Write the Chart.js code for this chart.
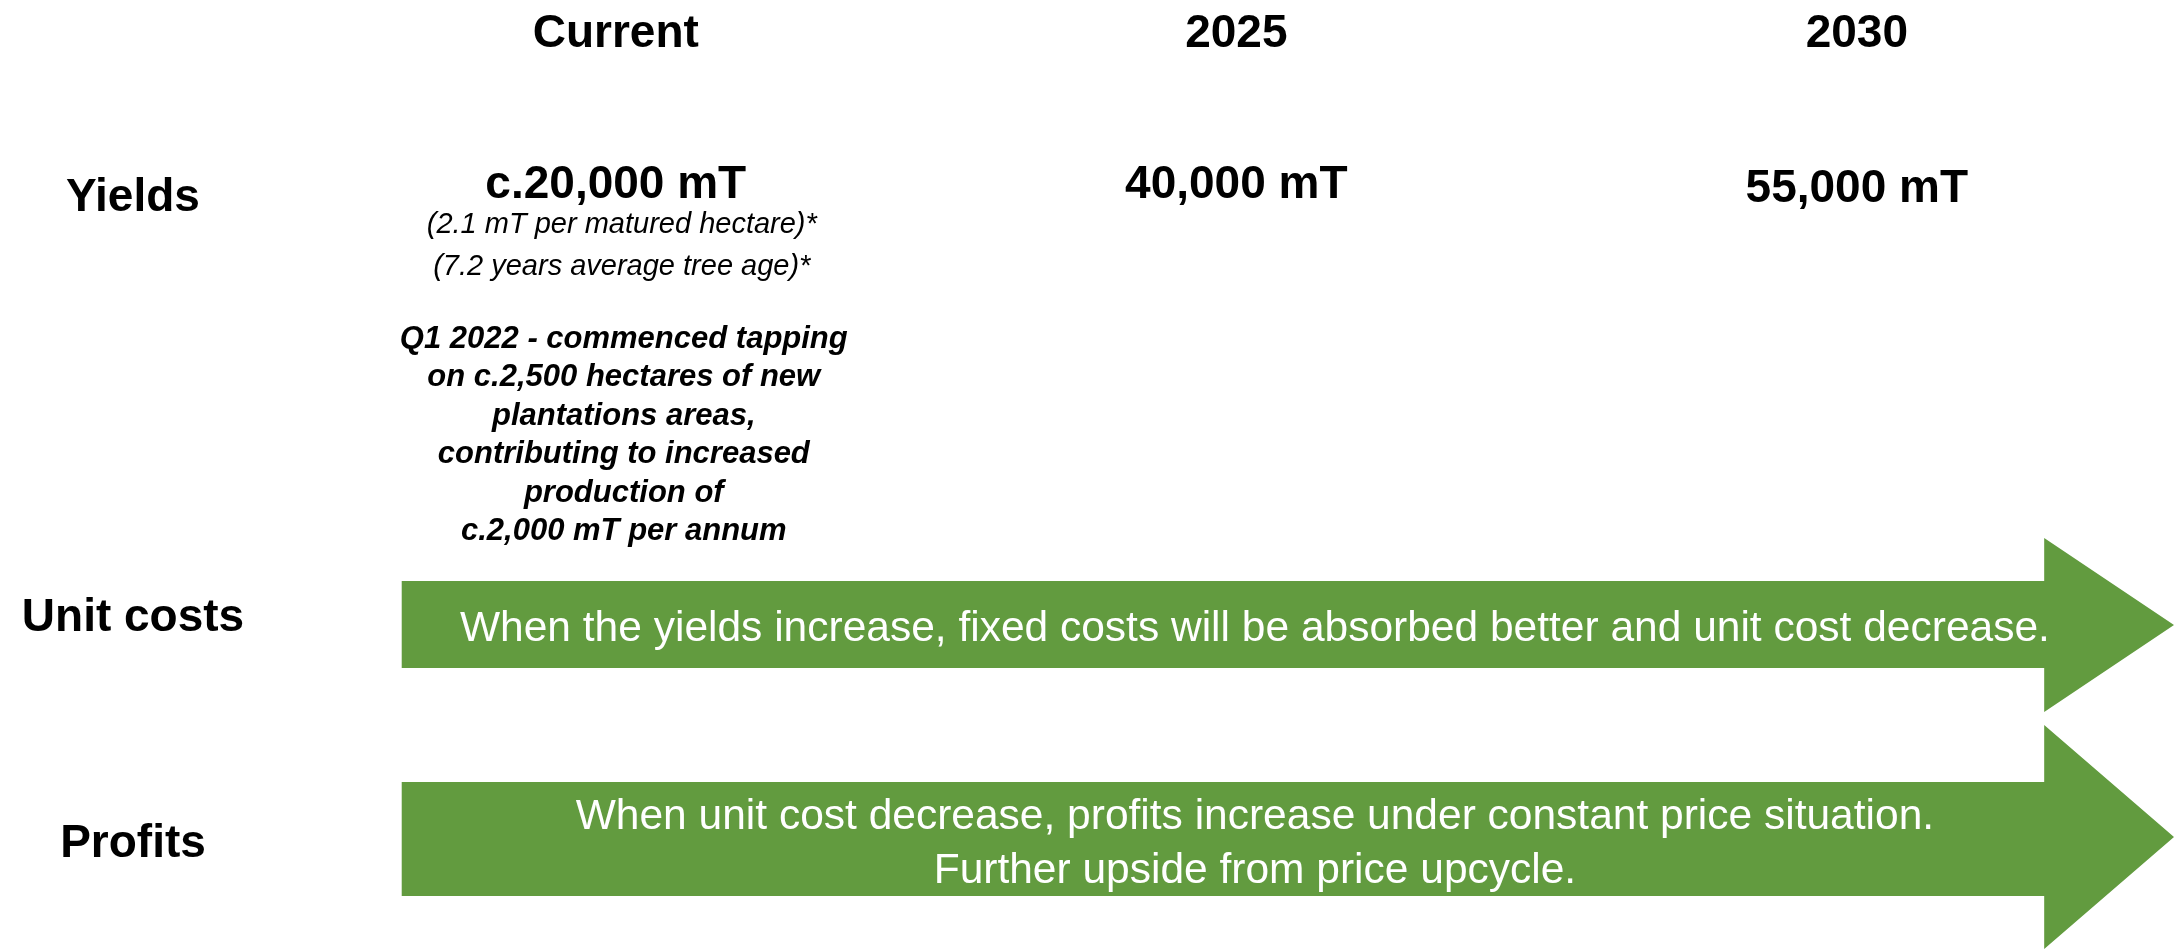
<!DOCTYPE html>
<html>
<head>
<meta charset="utf-8">
<script src="https://cdn.jsdelivr.net/npm/chart.js@4.4.0/dist/chart.umd.min.js"></script>
<style>
  html, body { margin: 0; padding: 0; background: #ffffff; }
  #wrap { width: 2174px; height: 949px; }
</style>
</head>
<body>
<div id="wrap"><canvas id="outlook" width="2174" height="949"></canvas></div>
<script>
// data
const periods = ['Current', '2025', '2030'];
const yields = [20000, 40000, 55000];
const yieldPrefix = ['c.', '', ''];
const rows = ['Yields', 'Unit costs', 'Profits'];
const currentNotes = ['(2.1 mT per matured hectare)*', '(7.2 years average tree age)*'];
const tappingNote = [
  'Q1 2022 - commenced tapping',
  'on c.2,500 hectares of new',
  'plantations areas,',
  'contributing to increased',
  'production of',
  'c.2,000 mT per annum'
];
const unitCostText = ['When the yields increase, fixed costs will be absorbed better and unit cost decrease.'];
const profitText = [
  'When unit cost decrease, profits increase under constant price situation.',
  'Further upside from price upcycle.'
];

const FONT = '"Liberation Sans", Arial, Helvetica, sans-serif';
const GREEN = '#629b3f';

// layout (x in period units, y in pixels)
const X_MIN = -0.9924, X_MAX = 2.5112;
const ARROW_START = -0.345, ARROW_HEAD = 2.302, TEXT_X = 1.03;
const rowBaseline = [211, 631, 857];
const arrows = [
  { text: unitCostText, bodyTop: 581, bodyBot: 668, headTop: 538, headBot: 712, tipY: 625, baseline: 641 },
  { text: profitText, bodyTop: 782, bodyBot: 896, headTop: 725, headBot: 949, tipY: 837, baseline: 829 }
];

function fmt(v) {
  return v.toLocaleString('en-US');
}

const outlookPlugin = {
  id: 'outlook',
  afterDraw(chart) {
    const ctx = chart.ctx;
    const xs = chart.scales.x;
    const left = xs.getPixelForValue(ARROW_START);
    const head = xs.getPixelForValue(ARROW_HEAD);
    const tip = chart.width;
    const textX = xs.getPixelForValue(TEXT_X);

    ctx.save();
    // arrows
    arrows.forEach(a => {
      ctx.beginPath();
      ctx.moveTo(left, a.bodyTop);
      ctx.lineTo(head, a.bodyTop);
      ctx.lineTo(head, a.headTop);
      ctx.lineTo(tip, a.tipY);
      ctx.lineTo(head, a.headBot);
      ctx.lineTo(head, a.bodyBot);
      ctx.lineTo(left, a.bodyBot);
      ctx.closePath();
      ctx.fillStyle = GREEN;
      ctx.fill();

      ctx.fillStyle = '#ffffff';
      ctx.font = '42.5px ' + FONT;
      ctx.textAlign = 'center';
      ctx.textBaseline = 'alphabetic';
      a.text.forEach((t, i) => ctx.fillText(t, textX, a.baseline + i * 54));
    });

    // row labels
    ctx.fillStyle = '#000000';
    ctx.font = 'bold 46px ' + FONT;
    ctx.textAlign = 'center';
    rows.forEach((r, i) => ctx.fillText(r, 133, rowBaseline[i]));

    // yields values on the dataset points
    const meta = chart.getDatasetMeta(0);
    meta.data.forEach((pt, i) => {
      const y = i === 2 ? 202 : 198;
      ctx.font = 'bold 46px ' + FONT;
      ctx.fillText(yieldPrefix[i] + fmt(yields[i]) + ' mT', pt.x, y);
    });

    // notes under the current yield
    const cx = meta.data[0].x + 6;
    ctx.font = 'italic 29px ' + FONT;
    currentNotes.forEach((t, i) => ctx.fillText(t, cx, 233 + i * 42));
    ctx.font = 'italic bold 31px ' + FONT;
    tappingNote.forEach((t, i) => ctx.fillText(t, cx + 2, 348 + i * 38.4));
    ctx.restore();
  }
};

const ctx = document.getElementById('outlook');

new Chart(ctx, {
  type: 'scatter',
  data: {
    datasets: [{
      label: 'Yields (mT)',
      data: yields.map((v, i) => ({ x: i, y: 0 })),
      pointRadius: 0,
      pointHoverRadius: 0
    }]
  },
  options: {
    responsive: false,
    animation: false,
    devicePixelRatio: 1,
    layout: { padding: 0 },
    plugins: {
      legend: { display: false },
      tooltip: { enabled: false }
    },
    scales: {
      x: {
        type: 'linear',
        position: 'top',
        min: X_MIN,
        max: X_MAX,
        grid: { display: false, drawTicks: false },
        border: { display: false },
        afterBuildTicks: axis => {
          axis.ticks = periods.map((p, i) => ({ value: i }));
        },
        ticks: {
          autoSkip: false,
          maxRotation: 0,
          padding: 7,
          color: '#000000',
          font: { family: FONT, size: 46, weight: 'bold' },
          callback: v => periods[v]
        }
      },
      y: { display: false, min: -1, max: 1 }
    }
  },
  plugins: [outlookPlugin]
});
</script>
</body>
</html>
